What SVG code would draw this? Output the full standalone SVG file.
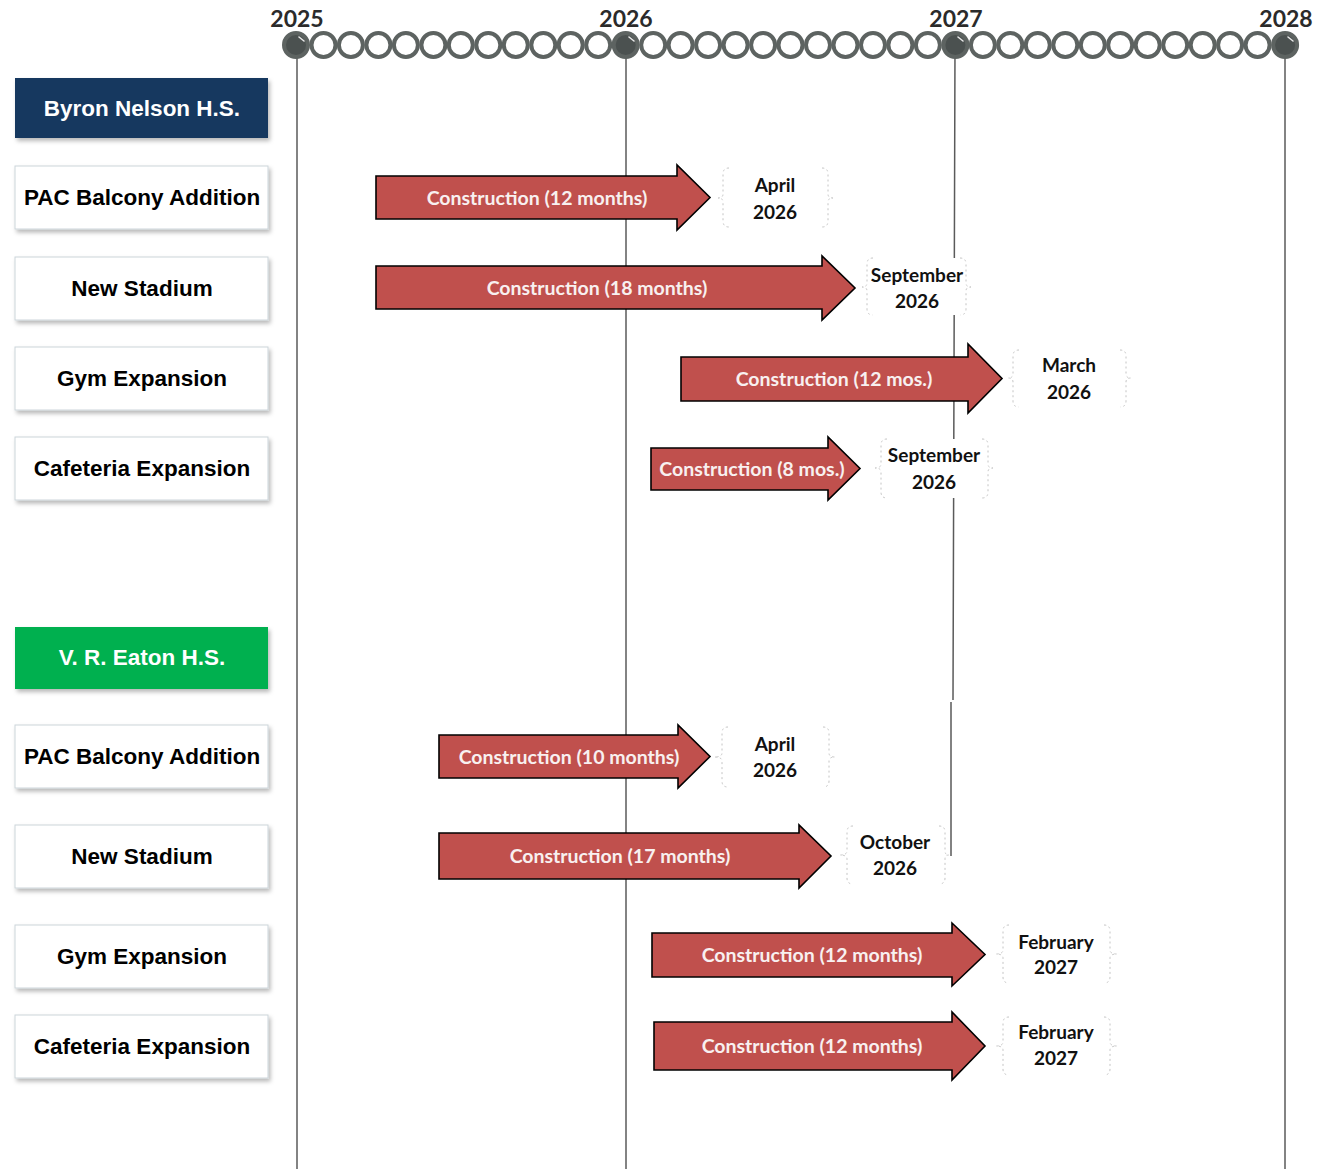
<svg xmlns="http://www.w3.org/2000/svg" width="1319" height="1169" viewBox="0 0 1319 1169">
<defs>
<style>
.grid{stroke:#5a5a5a;stroke-width:1.5;fill:none}
.tick{fill:#ffffff;stroke:#5d6361;stroke-width:4}
.ytick{fill:#4b5150;stroke:#5d6361;stroke-width:4}
.hl{fill:none;stroke:#e8e8e8;stroke-width:1.6;stroke-linecap:round}
.year{font-family:Lato,"Open Sans",sans-serif;font-weight:700;font-size:23px;fill:#2b2b2b;text-anchor:middle}
.box{fill:#ffffff;stroke:#ccd5da;stroke-width:1}
.lbl{font-family:"Liberation Sans",Arial,sans-serif;font-weight:700;font-size:22.5px;fill:#000000;text-anchor:middle}
.hdr{font-family:"Liberation Sans",Arial,sans-serif;font-weight:700;font-size:22.5px;fill:#ffffff;text-anchor:middle}
.arrow{fill:#c0504d;stroke:#000000;stroke-width:1.6;stroke-linejoin:miter}
.atext{font-family:Lato,"Open Sans",sans-serif;font-weight:700;font-size:19.5px;fill:#f8f0f0;text-anchor:middle}
.cbg{fill:#ffffff;stroke:none}
.brace{fill:none;stroke:#c4c4c4;stroke-width:1;stroke-dasharray:2 3}
.ctext{font-family:Lato,"Open Sans",sans-serif;font-weight:700;font-size:19px;fill:#111111;text-anchor:middle}
</style>
<filter id="sh" x="-10%" y="-20%" width="125%" height="150%">
<feDropShadow dx="2" dy="3" stdDeviation="2" flood-color="#000000" flood-opacity="0.28"/>
</filter>
</defs>
<rect width="1319" height="1169" fill="#ffffff"/>

<g id="gridlines">
<line class="grid" x1="297" y1="45" x2="297" y2="1169"/>
<line class="grid" x1="626" y1="45" x2="626" y2="1169"/>
<path class="grid" d="M955 45 L953 700 M951 702 L951 856"/>
<line class="grid" x1="1285" y1="45" x2="1285" y2="1169"/>
</g>

<g id="timeline">
<circle class="ytick" cx="296" cy="45" r="12"/>
<circle class="tick" cx="323.5" cy="45" r="12"/>
<circle class="tick" cx="350.9" cy="45" r="12"/>
<circle class="tick" cx="378.4" cy="45" r="12"/>
<circle class="tick" cx="405.9" cy="45" r="12"/>
<circle class="tick" cx="433.4" cy="45" r="12"/>
<circle class="tick" cx="460.8" cy="45" r="12"/>
<circle class="tick" cx="488.3" cy="45" r="12"/>
<circle class="tick" cx="515.8" cy="45" r="12"/>
<circle class="tick" cx="543.3" cy="45" r="12"/>
<circle class="tick" cx="570.7" cy="45" r="12"/>
<circle class="tick" cx="598.2" cy="45" r="12"/>
<circle class="ytick" cx="625.7" cy="45" r="12"/>
<circle class="tick" cx="653.2" cy="45" r="12"/>
<circle class="tick" cx="680.6" cy="45" r="12"/>
<circle class="tick" cx="708.1" cy="45" r="12"/>
<circle class="tick" cx="735.6" cy="45" r="12"/>
<circle class="tick" cx="763.1" cy="45" r="12"/>
<circle class="tick" cx="790.5" cy="45" r="12"/>
<circle class="tick" cx="818" cy="45" r="12"/>
<circle class="tick" cx="845.5" cy="45" r="12"/>
<circle class="tick" cx="873" cy="45" r="12"/>
<circle class="tick" cx="900.4" cy="45" r="12"/>
<circle class="tick" cx="927.9" cy="45" r="12"/>
<circle class="ytick" cx="955.4" cy="45" r="12"/>
<circle class="tick" cx="982.9" cy="45" r="12"/>
<circle class="tick" cx="1010.3" cy="45" r="12"/>
<circle class="tick" cx="1037.8" cy="45" r="12"/>
<circle class="tick" cx="1065.3" cy="45" r="12"/>
<circle class="tick" cx="1092.8" cy="45" r="12"/>
<circle class="tick" cx="1120.2" cy="45" r="12"/>
<circle class="tick" cx="1147.7" cy="45" r="12"/>
<circle class="tick" cx="1175.2" cy="45" r="12"/>
<circle class="tick" cx="1202.7" cy="45" r="12"/>
<circle class="tick" cx="1230.1" cy="45" r="12"/>
<circle class="tick" cx="1257.6" cy="45" r="12"/>
<circle class="ytick" cx="1285.1" cy="45" r="12"/>
<path class="hl" d="M299 37 L304 41"/>
<path class="hl" d="M629 37 L634 41"/>
<path class="hl" d="M958 37 L963 41"/>
<path class="hl" d="M1288 37 L1293 41"/>
<text class="year" x="297" y="27">2025</text>
<text class="year" x="626" y="27">2026</text>
<text class="year" x="956" y="27">2027</text>
<text class="year" x="1286" y="27">2028</text>
</g>

<g id="labels">
<g id="hdr-byron"><rect x="15" y="78" width="253" height="60" fill="#17375e" filter="url(#sh)"/><text class="hdr" x="142" y="116">Byron Nelson H.S.</text></g>
<g id="bn-pac"><rect class="box" x="15" y="166" width="253" height="63" filter="url(#sh)"/><text class="lbl" x="142" y="205">PAC Balcony Addition</text></g>
<g id="bn-stadium"><rect class="box" x="15" y="257" width="253" height="63" filter="url(#sh)"/><text class="lbl" x="142" y="296">New Stadium</text></g>
<g id="bn-gym"><rect class="box" x="15" y="347" width="253" height="63" filter="url(#sh)"/><text class="lbl" x="142" y="386">Gym Expansion</text></g>
<g id="bn-caf"><rect class="box" x="15" y="437" width="253" height="63" filter="url(#sh)"/><text class="lbl" x="142" y="476">Cafeteria Expansion</text></g>
<g id="hdr-eaton"><rect x="15" y="627" width="253" height="62" fill="#00b050" filter="url(#sh)"/><text class="hdr" x="142" y="665">V. R. Eaton H.S.</text></g>
<g id="vr-pac"><rect class="box" x="15" y="725" width="253" height="63" filter="url(#sh)"/><text class="lbl" x="142" y="764">PAC Balcony Addition</text></g>
<g id="vr-stadium"><rect class="box" x="15" y="825" width="253" height="63" filter="url(#sh)"/><text class="lbl" x="142" y="864">New Stadium</text></g>
<g id="vr-gym"><rect class="box" x="15" y="925" width="253" height="63" filter="url(#sh)"/><text class="lbl" x="142" y="964">Gym Expansion</text></g>
<g id="vr-caf"><rect class="box" x="15" y="1015" width="253" height="63" filter="url(#sh)"/><text class="lbl" x="142" y="1054">Cafeteria Expansion</text></g>
</g>

<g id="tasks">
<g id="task-bn-pac"><polygon class="arrow" points="376,176 677,176 677,165 710,197.5 677,230 677,219 376,219"/><text class="atext" x="537" y="204.5">Construction (12 months)</text></g>
<g id="task-bn-stadium"><polygon class="arrow" points="376,266 822,266 822,256 855,288 822,320 822,309 376,309"/><text class="atext" x="597" y="295">Construction (18 months)</text></g>
<g id="task-bn-gym"><polygon class="arrow" points="681,357 968,357 968,344 1002,378.5 968,413 968,401 681,401"/><text class="atext" x="834" y="385.5">Construction (12 mos.)</text></g>
<g id="task-bn-caf"><polygon class="arrow" points="651,448 828,448 828,437 860,468.5 828,500 828,490 651,490"/><text class="atext" x="752" y="475.5">Construction (8 mos.)</text></g>
<g id="task-vr-pac"><polygon class="arrow" points="439,735 678,735 678,725 710,756.5 678,788 678,778 439,778"/><text class="atext" x="569" y="763.5">Construction (10 months)</text></g>
<g id="task-vr-stadium"><polygon class="arrow" points="439,833 799,833 799,825 831,856 799,888 799,879 439,879"/><text class="atext" x="620" y="863">Construction (17 months)</text></g>
<g id="task-vr-gym"><polygon class="arrow" points="652,933 952,933 952,923 985,954.5 952,986 952,977 652,977"/><text class="atext" x="812" y="961.5">Construction (12 months)</text></g>
<g id="task-vr-caf"><polygon class="arrow" points="654,1022 952,1022 952,1012 985,1046 952,1080 952,1070 654,1070"/><text class="atext" x="812" y="1053">Construction (12 months)</text></g>
</g>

<g id="callouts">
<g id="cal-bn-pac">
<rect class="cbg" x="723" y="168" width="105" height="59"/>
<path class="brace" d="M729 168 Q723 168 723 174 L723 194 Q723 198 718 198 Q723 198 723 202 L723 221 Q723 227 729 227"/>
<path class="brace" d="M822 168 Q828 168 828 174 L828 194 Q828 198 833 198 Q828 198 828 202 L828 221 Q828 227 822 227"/>
<text class="ctext" x="775" y="192">April</text><text class="ctext" x="775" y="219">2026</text>
</g>
<g id="cal-bn-stadium">
<rect class="cbg" x="867" y="258" width="99" height="57"/>
<path class="brace" d="M873 258 Q867 258 867 264 L867 283 Q867 287 862 287 Q867 287 867 291 L867 309 Q867 315 873 315"/>
<path class="brace" d="M960 258 Q966 258 966 264 L966 283 Q966 287 971 287 Q966 287 966 291 L966 309 Q966 315 960 315"/>
<text class="ctext" x="917" y="282">September</text><text class="ctext" x="917" y="308">2026</text>
</g>
<g id="cal-bn-gym">
<rect class="cbg" x="1013" y="350" width="113" height="57"/>
<path class="brace" d="M1019 350 Q1013 350 1013 356 L1013 374 Q1013 378 1008 378 Q1013 378 1013 382 L1013 401 Q1013 407 1019 407"/>
<path class="brace" d="M1120 350 Q1126 350 1126 356 L1126 374 Q1126 378 1131 378 Q1126 378 1126 382 L1126 401 Q1126 407 1120 407"/>
<text class="ctext" x="1069" y="372">March</text><text class="ctext" x="1069" y="399">2026</text>
</g>
<g id="cal-bn-caf">
<rect class="cbg" x="881" y="439" width="107" height="59"/>
<path class="brace" d="M887 439 Q881 439 881 445 L881 464 Q881 468 875 468 Q881 468 881 472 L881 492 Q881 498 887 498"/>
<path class="brace" d="M982 439 Q988 439 988 445 L988 464 Q988 468 993 468 Q988 468 988 472 L988 492 Q988 498 982 498"/>
<text class="ctext" x="934" y="462">September</text><text class="ctext" x="934" y="489">2026</text>
</g>
<g id="cal-vr-pac">
<rect class="cbg" x="722" y="727" width="107" height="60"/>
<path class="brace" d="M728 727 Q722 727 722 733 L722 753 Q722 757 714 757 Q722 757 722 761 L722 781 Q722 787 728 787"/>
<path class="brace" d="M823 727 Q829 727 829 733 L829 753 Q829 757 835 757 Q829 757 829 761 L829 781 Q829 787 823 787"/>
<text class="ctext" x="775" y="751">April</text><text class="ctext" x="775" y="777">2026</text>
</g>
<g id="cal-vr-stadium">
<rect class="cbg" x="847" y="826" width="98" height="58"/>
<path class="brace" d="M853 826 Q847 826 847 832 L847 851 Q847 855 840 855 Q847 855 847 859 L847 878 Q847 884 853 884"/>
<path class="brace" d="M939 826 Q945 826 945 832 L945 851 Q945 855 949 855 Q945 855 945 859 L945 878 Q945 884 939 884"/>
<text class="ctext" x="895" y="849">October</text><text class="ctext" x="895" y="875">2026</text>
</g>
<g id="cal-vr-gym">
<rect class="cbg" x="1003" y="925" width="107" height="58"/>
<path class="brace" d="M1009 925 Q1003 925 1003 931 L1003 950 Q1003 954 996 954 Q1003 954 1003 958 L1003 977 Q1003 983 1009 983"/>
<path class="brace" d="M1104 925 Q1110 925 1110 931 L1110 950 Q1110 954 1117 954 Q1110 954 1110 958 L1110 977 Q1110 983 1104 983"/>
<text class="ctext" x="1056" y="949">February</text><text class="ctext" x="1056" y="974">2027</text>
</g>
<g id="cal-vr-caf">
<rect class="cbg" x="1003" y="1017" width="107" height="58"/>
<path class="brace" d="M1009 1017 Q1003 1017 1003 1023 L1003 1042 Q1003 1046 996 1046 Q1003 1046 1003 1050 L1003 1069 Q1003 1075 1009 1075"/>
<path class="brace" d="M1104 1017 Q1110 1017 1110 1023 L1110 1042 Q1110 1046 1117 1046 Q1110 1046 1110 1050 L1110 1069 Q1110 1075 1104 1075"/>
<text class="ctext" x="1056" y="1039">February</text><text class="ctext" x="1056" y="1065">2027</text>
</g>
</g>
</svg>
